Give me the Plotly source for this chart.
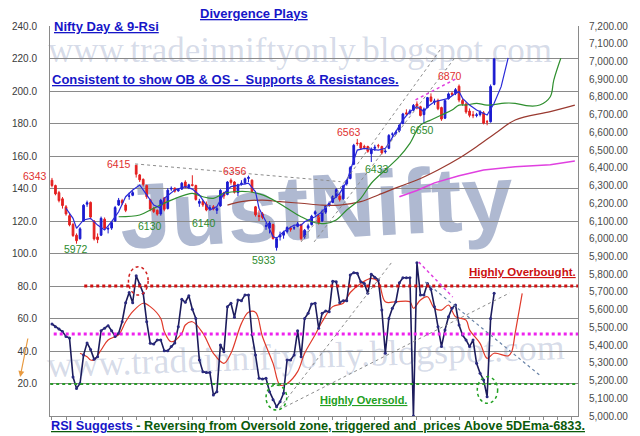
import plotly.graph_objects as go

# Nifty daily candles (bar number 0 = first candle on the left)
opens = [6330, 6300, 6260, 6225, 6180, 6130, 6080, 6020, 6000, 6100, 6195, 6205, 6100, 6010, 6020, 6110, 6055, 6060, 6100,
         6190, 6215, 6190, 6240, 6245, 6415, 6360, 6335, 6300, 6220, 6170, 6160, 6140, 6230, 6170, 6280, 6285, 6270, 6280, 6320, 6290,
         6305, 6300, 6200, 6210, 6195, 6170, 6180, 6160, 6185, 6260, 6250, 6330, 6320, 6260, 6310, 6315, 6340, 6330, 6180, 6130, 6140, 6070, 6060,
         6080, 5950, 6010, 6020, 6040, 6060, 6060, 6070, 6080, 6010, 6060, 6080, 6140, 6130, 6100, 6150, 6190, 6205, 6240,
         6240, 6225, 6310, 6340, 6420, 6540, 6540, 6520, 6520, 6480, 6510, 6525, 6520, 6490, 6510, 6590, 6595, 6610, 6650, 6710,
         6710, 6725, 6760, 6745, 6700, 6740, 6800, 6770, 6780, 6740, 6680, 6790, 6820, 6820, 6860, 6780, 6760, 6720,
         6700, 6695, 6700, 6710, 6660, 6660, 6870]
highs = [6343, 6305, 6270, 6235, 6190, 6140, 6090, 6030, 6065, 6195, 6215, 6210, 6105, 6030, 6125, 6120, 6070, 6100, 6185,
         6230, 6225, 6200, 6260, 6270, 6415, 6365, 6340, 6305, 6225, 6180, 6165, 6225, 6235, 6285, 6295, 6290, 6285, 6320, 6330, 6310,
         6358, 6305, 6225, 6220, 6210, 6190, 6190, 6180, 6280, 6265, 6325, 6340, 6325, 6310, 6330, 6345, 6356, 6335, 6185, 6160, 6150, 6090, 6100,
         6085, 6010, 6040, 6045, 6070, 6070, 6075, 6095, 6085, 6055, 6085, 6135, 6160, 6135, 6165, 6190, 6210, 6245, 6285,
         6255, 6305, 6335, 6410, 6535, 6563, 6545, 6530, 6525, 6515, 6530, 6535, 6525, 6505, 6590, 6600, 6610, 6645, 6710, 6730,
         6730, 6760, 6775, 6750, 6740, 6800, 6820, 6790, 6790, 6745, 6785, 6825, 6830, 6850, 6870, 6790, 6770, 6735,
         6720, 6710, 6725, 6720, 6670, 6870, 7020]
lows = [6290, 6245, 6205, 6170, 6130, 6070, 6010, 5972, 5995, 6095, 6180, 6110, 5990, 5975, 6015, 6050, 6030, 6050, 6095,
        6185, 6190, 6150, 6220, 6240, 6345, 6320, 6295, 6225, 6155, 6145, 6130, 6130, 6155, 6165, 6270, 6260, 6265, 6275, 6285, 6280,
        6295, 6215, 6180, 6180, 6155, 6160, 6160, 6140, 6180, 6225, 6245, 6305, 6255, 6240, 6300, 6305, 6320, 6260, 6125, 6100, 6110, 6050, 6030,
        5995, 5933, 5990, 6000, 6030, 6040, 6050, 6065, 5990, 6000, 6050, 6075, 6130, 6080, 6095, 6140, 6180, 6200, 6230,
        6210, 6220, 6300, 6335, 6415, 6525, 6500, 6505, 6485, 6433, 6495, 6510, 6475, 6480, 6505, 6570, 6585, 6600, 6645, 6695,
        6700, 6720, 6730, 6690, 6650, 6735, 6770, 6755, 6725, 6665, 6675, 6785, 6805, 6810, 6770, 6750, 6705, 6685,
        6680, 6685, 6690, 6645, 6640, 6655, 6865]
closes = [6300, 6253, 6215, 6187, 6140, 6078, 6018, 5989, 6056, 6189, 6203, 6122, 5999, 5995, 6115, 6059, 6057, 6091, 6176,
          6217, 6201, 6160, 6241, 6260, 6364, 6332, 6307, 6237, 6168, 6154, 6139, 6217, 6166, 6274, 6284, 6268, 6278, 6313, 6291, 6304,
          6301, 6221, 6211, 6191, 6162, 6174, 6168, 6171, 6273, 6241, 6320, 6318, 6262, 6304, 6313, 6338, 6346, 6266, 6135, 6126, 6120, 6073, 6089,
          6001, 6000, 6022, 6036, 6063, 6053, 6062, 6084, 6001, 6048, 6073, 6127, 6152, 6091, 6155, 6186, 6200, 6238, 6277,
          6221, 6298, 6329, 6401, 6527, 6537, 6511, 6516, 6493, 6504, 6516, 6524, 6484, 6494, 6583, 6590, 6601, 6641, 6704, 6704,
          6721, 6752, 6737, 6695, 6731, 6796, 6776, 6777, 6733, 6675, 6779, 6817, 6815, 6841, 6782, 6761, 6715, 6696,
          6694, 6699, 6715, 6652, 6659, 6859, 7014]
bars = list(range(len(closes)))

# 9-period RSI, one value per candle
rsi = [56.6, 55, 53.5, 52, 49, 48, 24, 17, 20, 37.5, 45, 41, 35, 36.5, 52.5, 54, 55.6, 52.5, 49, 51,
       58, 69.7, 76, 69.7, 86.3, 81, 75.5, 58, 44.7, 44.3, 46.8, 46.8, 40.2, 40.2, 42.7, 45, 55, 71.8, 70, 74,
       65.7, 60, 34.5, 27.3, 26.7, 26.7, 13, 15, 43.7, 39.6, 67.3, 69.4, 60.7, 71.4, 71, 74.5, 74.5, 50, 37.5, 23.2,
       22.8, 23.2, 15, 10, 5.7, 8.8, 14, 34.5, 34.5, 37.5, 52.5, 36.5, 60, 63.2, 69, 69.4, 54, 63.2, 64.6, 64.2,
       83, 82.6, 69.7, 71, 71, 86.8, 88.2, 87.8, 82.6, 81.6, 75.5, 87.2, 85.3, 83.7, 65.2, 38.6, 60, 66.3, 70.3, 82,
       85.1, 85.1, 85.1, 0, 94.3, 74.5, 74.5, 81.6, 78, 67.3, 55, 42.7, 53, 61.1, 66.3, 68.3, 56, 49.8, 46.8, 42.7,
       46.8, 32.4, 26.3, 22.2, 11.9, 60, 75.5]

# RSI signal line (drawn displaced forward)
rsi_sig_x = [8, 10, 11, 12, 14, 16, 19, 21, 23, 26, 28, 31, 32, 34, 37, 38, 40, 43, 46, 49, 51, 54, 56, 58, 60,
             63, 65, 67, 70, 72, 75, 77, 80, 83, 85, 88, 91, 93, 95, 98, 102, 103, 105, 107, 109, 111, 113, 115,
             118, 119, 122, 124, 126, 130, 131, 132, 134]
rsi_sig = [38.6, 36.5, 34.5, 34.5, 40.6, 46.8, 50, 58, 64.2, 69.4, 67.3, 60, 52, 45.7, 50.9, 56, 58, 51, 38.6, 32.4,
           38.6, 57, 63.8, 63.8, 48.8, 32.4, 19, 20, 27.3, 38.6, 50, 58, 67.3, 69.4, 76, 81.6, 84.7, 82.6, 70.3, 70.3,
           70.3, 66.3, 71.4, 73.4, 66.3, 65.2, 68.3, 61.1, 59, 53, 44.7, 35.5, 38.6, 37, 39.6, 51, 75.5]

# price averages (displaced)
ema5_x = [4, 6, 7, 9, 11, 13, 15, 17, 19, 21, 23, 25, 27, 29, 31, 32, 35, 38, 40, 42, 43, 45, 47, 49, 51, 53, 56, 58, 59, 61,
          63, 64, 66, 69, 71, 72, 75, 77, 79, 82, 84, 86, 87, 89, 91, 93, 95, 96, 98, 100, 102, 104, 106, 107, 109, 111, 113,
          115, 116, 117, 119, 121, 123, 124, 126, 128, 130]
ema5 = [6172, 6115, 6059, 6106, 6115, 6077, 6049, 6096, 6152, 6237, 6275, 6303, 6247, 6190, 6172, 6228, 6275, 6294, 6280, 6247,
        6218, 6162, 6181, 6256, 6294, 6303, 6313, 6265, 6172, 6096, 6012, 6002, 6040, 6077, 6077, 6096, 6124, 6152, 6200, 6256,
        6322, 6444, 6500, 6510, 6504, 6500, 6510, 6538, 6604, 6670, 6717, 6745, 6717, 6745, 6773, 6783, 6792, 6820, 6830, 6792,
        6754, 6726, 6708, 6698, 6764, 6858, 7020]
ema20_x = [19, 25, 29, 34, 38, 40, 43, 46, 49, 52, 56, 60, 64, 67, 71, 75, 78, 81, 84, 88, 91, 95, 99, 102, 105, 108, 111,
           114, 116, 118, 121, 124, 129, 132, 136, 139, 142, 143, 145]
ema20 = [6124, 6134, 6172, 6218, 6247, 6256, 6237, 6228, 6256, 6265, 6265, 6247, 6209, 6172, 6124, 6090, 6087, 6106, 6162,
         6228, 6313, 6388, 6463, 6538, 6641, 6670, 6698, 6726, 6754, 6754, 6764, 6754, 6765, 6764, 6749, 6754, 6801, 6895, 7018]
ema50_x = [50, 54, 60, 65, 71, 77, 82, 88, 93, 99, 104, 110, 116, 121, 127, 132, 142, 149]
ema50 = [6190, 6209, 6218, 6209, 6200, 6190, 6190, 6209, 6247, 6294, 6331, 6388, 6454, 6519, 6604, 6670, 6717, 6754]
ema200_x = [99, 104, 109, 116, 123, 132, 142, 149]
ema200 = [6237, 6272, 6315, 6355, 6388, 6406, 6418, 6438]

# levels and axes
ob_level, mid_level, os_level = 80, 50, 20
left_ticks = [20, 40, 60, 80, 100, 120, 140, 160, 180, 200, 220, 240]

swing_highs = [("6343", -0.028, 0.615), ("6415", 0.131, 0.646), ("6356", 0.35, 0.628),
               ("6563", 0.567, 0.728), ("6870", 0.757, 0.872)]
swing_lows = [("5972", 0.05, 0.428), ("6130", 0.189, 0.487), ("6140", 0.291, 0.495),
              ("5933", 0.406, 0.40), ("6433", 0.62, 0.633), ("6650", 0.704, 0.733)]

fig = go.Figure()
fig.add_trace(go.Candlestick(x=bars, open=opens, high=highs, low=lows, close=closes, yaxis="y2",
                             increasing=dict(line=dict(color="#1b1bd0", width=1), fillcolor="#1b1bd0"),
                             decreasing=dict(line=dict(color="#e42020", width=1), fillcolor="#e42020"),
                             whiskerwidth=0))
fig.add_trace(go.Scatter(x=ema200_x, y=ema200, yaxis="y2", mode="lines", line=dict(color="#e040e0", width=1.5)))
fig.add_trace(go.Scatter(x=ema50_x, y=ema50, yaxis="y2", mode="lines", line=dict(color="#9a3a30", width=1.2), line_shape="spline"))
fig.add_trace(go.Scatter(x=ema20_x, y=ema20, yaxis="y2", mode="lines", line=dict(color="#2f8f2f", width=1.2), line_shape="spline"))
fig.add_trace(go.Scatter(x=ema5_x, y=ema5, yaxis="y2", mode="lines", line=dict(color="#2a2ad8", width=1.2)))
fig.add_trace(go.Scatter(x=rsi_sig_x, y=rsi_sig, mode="lines", line=dict(color="#e03a2a", width=1.2), line_shape="spline"))
fig.add_trace(go.Scatter(x=bars, y=rsi, mode="lines+markers", line=dict(color="#1c1c5c", width=1.6),
                         marker=dict(size=3, color="#2a2a80")))

shapes = []
# watermarks
wm = "rgba(130,146,185,0.33)"
shapes.append(dict(type="rect", xref="paper", yref="paper", x0=0.004, x1=0.943, y0=0.889, y1=1.005,
                   line=dict(width=0), fillcolor="rgba(0,0,0,0)", layer="below",
                   label=dict(text="www.tradeinniftyonly.blogspot.com", textposition="middle center",
                              font=dict(family="Liberation Serif", size=35, color=wm))))
shapes.append(dict(type="rect", xref="paper", yref="paper", x0=0.007, x1=0.961, y0=0.106, y1=0.222,
                   line=dict(width=0), fillcolor="rgba(0,0,0,0)", layer="below",
                   label=dict(text="www.tradeinniftyonly.blogspot.com", textposition="middle center", textangle=-2,
                              font=dict(family="Liberation Serif", size=36, color=wm))))
shapes.append(dict(type="rect", xref="paper", yref="paper", x0=0.148, x1=0.859, y0=0.46, y1=0.66,
                   line=dict(width=0), fillcolor="rgba(0,0,0,0)", layer="below",
                   label=dict(text="JustNifty", textposition="middle center", textangle=-3,
                              font=dict(family="Liberation Sans", size=92, weight="bold",
                                        color="rgba(110,128,172,0.55)"))))
# OB / mid / OS levels
shapes.append(dict(type="line", xref="x", yref="y", x0=9.2, x1=149.9, y0=ob_level, y1=ob_level,
                   line=dict(color="#d01010", width=3, dash="dot")))
shapes.append(dict(type="line", xref="x", yref="y", x0=0.5, x1=149.9, y0=mid_level + 0.5, y1=mid_level + 0.5,
                   line=dict(color="#ee22ee", width=3, dash="dot")))
shapes.append(dict(type="line", xref="x", yref="y", x0=-0.5, x1=149.9, y0=os_level - 0.3, y1=os_level - 0.3,
                   line=dict(color="#2a9a2a", width=2, dash="dot")))
# trend lines on price
grey = dict(color="#8c8c8c", width=1, dash="dot")
shapes.append(dict(type="line", xref="x", yref="y2", x0=23.7, y0=6422, x1=82.2, y1=6322, line=grey))
shapes.append(dict(type="line", xref="x", yref="y2", x0=71, y0=5982, x1=110.6, y1=7065, line=grey))
shapes.append(dict(type="line", xref="x", yref="y2", x0=74.7, y0=5982, x1=114.8, y1=7020, line=grey))
shapes.append(dict(type="line", xref="x", yref="y2", x0=103.6, y0=6783, x1=115.6, y1=6907,
                   line=dict(color="#e040e0", width=1.5, dash="dot")))
# trend lines on RSI
shapes.append(dict(type="line", xref="x", yref="y", x0=64.9, y0=4.9, x1=96.9, y1=94.8, line=grey))
shapes.append(dict(type="line", xref="x", yref="y", x0=66.3, y0=5.5, x1=130.4, y1=75.7, line=grey))
shapes.append(dict(type="line", xref="x", yref="y", x0=104.5, y0=94.8, x1=114.2, y1=73.2,
                   line=dict(color="#e040e0", width=1.5, dash="dot")))
shapes.append(dict(type="line", xref="x", yref="y", x0=106.4, y0=82.5, x1=139.3, y1=24.6,
                   line=dict(color="#6a84a8", width=1.2, dash="dot")))
# circles
shapes.append(dict(type="circle", xref="x", yref="y", x0=21.8, x1=27.4, y0=74.4, y1=91.9,
                   line=dict(color="#d02020", width=1.5, dash="dot")))
shapes.append(dict(type="circle", xref="x", yref="y", x0=61, x1=66.9, y0=3.7, y1=19.1,
                   line=dict(color="#22a022", width=1.5, dash="dot")))
shapes.append(dict(type="circle", xref="x", yref="y", x0=121.2, x1=127, y0=7.8, y1=24.2,
                   line=dict(color="#22a022", width=1.5, dash="dot")))

ann = []
blue = "#1616c8"


def note(text, xp, yp, size, color, xanchor="center", bold=True, under=True):
    body = "<b>" + text + "</b>" if bold else text
    font = dict(family="Liberation Sans", size=size, color=color)
    if under:
        font["lineposition"] = "under"
    return dict(text=body, x=xp, y=yp, xref="paper", yref="paper", showarrow=False,
                xanchor=xanchor, yanchor="middle", font=font)


ann.append(note("Divergence Plays", 0.387, 1.031, 13, blue))
ann.append(note("Nifty Day &amp; 9-Rsi", 0.004, 1.0, 13, blue, xanchor="left"))
ann.append(note("Consistent to show OB &amp; OS -  Supports &amp; Resistances.", 0.0, 0.864, 13, blue, xanchor="left"))
ann.append(note("Highly Overbought.", 0.894, 0.369, 11.5, "#cc1111"))
ann.append(note("Highly Oversold.", 0.594, 0.041, 11, "#22a022"))
ann.append(note("<span style='color:#1616c8'>RSI Suggests</span> - Reversing from Oversold zone, "
                "triggered and  prices Above 5DEma-6833.", -0.002, -0.026, 12.7, "#0b5a0b", xanchor="left"))
for t, xp, yp in swing_highs:
    ann.append(note(t, xp, yp, 10.5, "#e03030", bold=False, under=False))
for t, xp, yp in swing_lows:
    ann.append(note(t, xp, yp, 10.5, "#2e8b2e", bold=False, under=False))
ann.append(dict(text="", x=-0.0565, y=0.10, xref="paper", yref="paper", showarrow=True, ax=8, ay=-40,
                arrowhead=2, arrowsize=1, arrowwidth=1.2, arrowcolor="#e89a40"))

fig.update_layout(
    width=640, height=436, showlegend=False,
    paper_bgcolor="white", plot_bgcolor="white",
    margin=dict(l=43, r=57, t=26, b=20),
    shapes=shapes, annotations=ann,
    xaxis=dict(range=[-0.56, 149.9], showgrid=False, zeroline=False, showticklabels=False,
               showline=True, linecolor="#8a8a8a", ticks="outside", ticklen=3, tickcolor="#8a8a8a",
               dtick=4, tick0=0, rangeslider=dict(visible=False)),
    yaxis=dict(range=[0, 240], tickvals=left_ticks, tickformat=".1f", showgrid=True, gridcolor="#8a8a8a",
               gridwidth=1, zeroline=False, showline=True, linecolor="#8a8a8a", ticklabelstandoff=10,
               tickfont=dict(family="Liberation Sans", size=10, color="#3a3a3a")),
    yaxis2=dict(range=[5000, 7200], overlaying="y", side="right", dtick=100, tick0=5000, tickformat=",.2f",
                showgrid=False, zeroline=False, showline=True, linecolor="#8a8a8a", ticklabelstandoff=8,
                tickfont=dict(family="Liberation Sans", size=10, color="#4a4a4a")),
)

fig.write_html("out.html", config={"displayModeBar": False},
               post_script="document.body.style.margin='0';document.body.style.overflow='hidden';")
